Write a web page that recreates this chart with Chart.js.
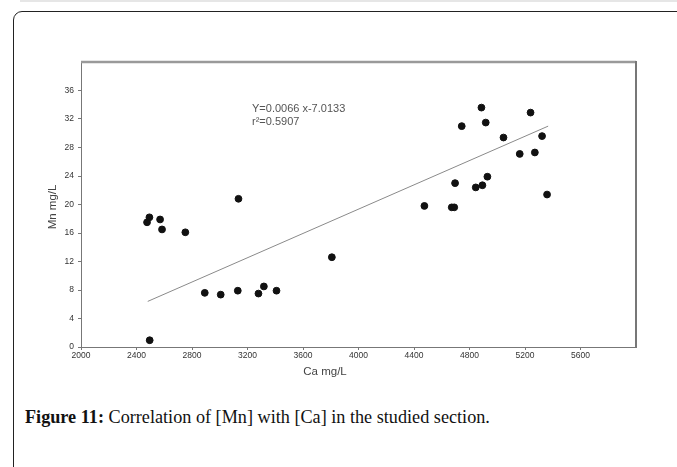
<!DOCTYPE html>
<html>
<head>
<meta charset="utf-8">
<script src="https://cdn.jsdelivr.net/npm/chart.js@4"></script>
<style>
  html, body { margin: 0; padding: 0; background: #fff; overflow: hidden; }
  body { width: 677px; height: 467px; position: relative; }
  .topline { position: absolute; left: 20px; top: 0; width: 700px; height: 2px; background: #e6e6e6; }
  .card { position: absolute; left: 13px; top: 11px; width: 720px; height: 500px; border: 1.5px solid #222; border-radius: 9px; }
  .caption { position: absolute; left: 25px; top: 407px; font-family: "Liberation Serif", serif; font-size: 18.2px; color: #111; white-space: nowrap; }
  .caption b { font-weight: bold; }
  canvas { position: absolute; left: 0; top: 0; }
</style>
</head>
<body>
<div class="topline"></div>
<div class="card"></div>
<div class="caption"><b>Figure 11:</b> Correlation of [Mn] with [Ca] in the studied section.</div>
<canvas id="scatter" width="677" height="467"></canvas>
<script>
// Ca (mg/L) vs Mn (mg/L)
const caValues = [2476, 2493, 2570, 2584, 2752, 3135, 2892, 3007, 3130, 3279, 3318, 3409, 3808, 2495,
                  4475, 4672, 4690, 4696, 4744, 4845, 4893, 4929, 4886, 4917, 5045, 5162, 5271, 5240, 5323, 5359];
const mnValues = [17.5, 18.2, 17.9, 16.5, 16.1, 20.8, 7.6, 7.35, 7.9, 7.5, 8.5, 7.9, 12.6, 0.95,
                  19.8, 19.6, 19.6, 23.0, 31.0, 22.4, 22.7, 23.9, 33.6, 31.5, 29.4, 27.1, 27.3, 32.9, 29.6, 21.4];
// fitted line as drawn (end points)
const fitCa = [2481, 5367];
const fitMn = [6.4, 31.0];
const xTicks = [2000, 2400, 2800, 3200, 3600, 4000, 4400, 4800, 5200, 5600];
const yTicks = [0, 4, 8, 12, 16, 20, 24, 28, 32, 36];
const eqText = ['Y=0.0066 x-7.0133', 'r²=0.5907'];

const frameAndText = {
    id: 'frameAndText',
    afterDraw(chart) {
        const { ctx, chartArea: a } = chart;
        ctx.save();
        // top and right frame
        ctx.strokeStyle = '#9a9a9a';
        ctx.lineWidth = 2.5;
        ctx.beginPath();
        ctx.moveTo(a.left, a.top);
        ctx.lineTo(a.right, a.top);
        ctx.stroke();
        ctx.strokeStyle = '#777';
        ctx.lineWidth = 2;
        ctx.beginPath();
        ctx.moveTo(a.right, a.top - 1);
        ctx.lineTo(a.right, a.bottom);
        ctx.stroke();

        // equation
        ctx.fillStyle = '#555';
        ctx.font = '11px "Liberation Sans", Arial, sans-serif';
        ctx.textBaseline = 'middle';
        ctx.textAlign = 'left';
        ctx.fillText(eqText[0], a.left + 171, a.top + 47);
        ctx.fillText(eqText[1], a.left + 171, a.top + 60);

        // axis titles
        ctx.fillStyle = '#444';
        ctx.font = '11.5px "Liberation Sans", Arial, sans-serif';
        ctx.textAlign = 'center';
        ctx.fillText('Ca mg/L', 325, 372);
        ctx.translate(53, 207);
        ctx.rotate(-Math.PI / 2);
        ctx.fillText('Mn mg/L', 0, 0);
        ctx.restore();
    }
};

const tickFont = { family: '"Liberation Sans", Arial, sans-serif', size: 8.5 };

new Chart(document.getElementById('scatter'), {
    type: 'scatter',
    data: {
        datasets: [{
            data: caValues.map((x, i) => ({ x: x, y: mnValues[i] })),
            backgroundColor: '#111',
            borderColor: '#111',
            pointRadius: 3.4,
            order: 1
        }, {
            type: 'line',
            data: fitCa.map((x, i) => ({ x: x, y: fitMn[i] })),
            borderColor: '#8a8a8a',
            borderWidth: 1,
            pointRadius: 0,
            fill: false,
            order: 2
        }]
    },
    options: {
        responsive: false,
        animation: false,
        layout: { padding: { top: 62, right: 41, left: 0, bottom: 0 } },
        plugins: { legend: { display: false }, tooltip: { enabled: false } },
        scales: {
            x: {
                type: 'linear',
                min: 2000,
                max: 6000,
                afterBuildTicks: s => { s.ticks = xTicks.map(v => ({ value: v })); },
                afterFit: s => { s.height = 120; },
                border: { display: true, color: '#777', width: 1 },
                grid: { drawOnChartArea: false, drawTicks: true, tickLength: 3, color: '#777' },
                ticks: { color: '#333', font: tickFont, padding: 1, maxRotation: 0, autoSkip: false,
                         callback: v => String(v) }
            },
            y: {
                type: 'linear',
                min: 0,
                max: 40,
                afterBuildTicks: s => { s.ticks = yTicks.map(v => ({ value: v })); },
                afterFit: s => { s.width = 81; },
                border: { display: true, color: '#777', width: 1 },
                grid: { drawOnChartArea: false, drawTicks: true, tickLength: 3, color: '#777' },
                ticks: { color: '#333', font: tickFont, padding: 4, autoSkip: false,
                         callback: v => String(v) }
            }
        }
    },
    plugins: [frameAndText]
});
</script>
</body>
</html>
